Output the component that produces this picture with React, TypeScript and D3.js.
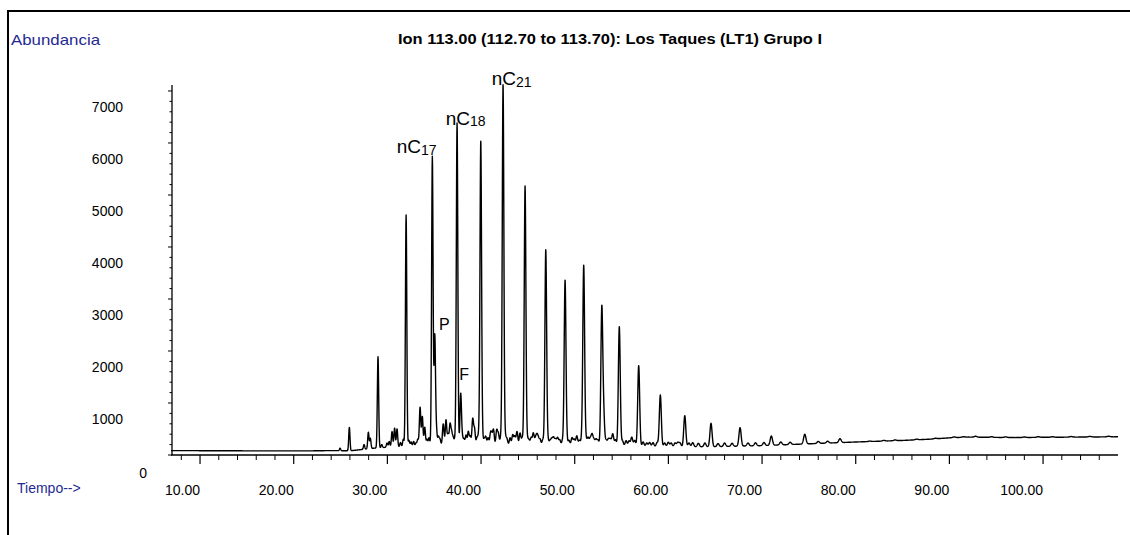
import React from "react";
import * as d3 from "d3";

const W = 1130;
const H = 535;

// Retention times (min) of resolved peaks and their apex abundance
const peakTimes = [24.95, 25.94, 27.51, 27.97, 28.18, 29.0, 29.96, 30.5, 30.77, 31.03, 32.0, 32.53, 33.06, 33.49, 33.73, 33.99, 34.23, 34.8, 35.06, 35.23, 35.62, 35.94, 36.26, 36.48, 36.69, 37.01, 37.44, 37.83, 38.18, 38.64, 39.11, 39.3, 39.57, 39.97, 40.32, 40.75, 41.01, 41.33, 41.67, 42.35, 42.77, 43.38, 43.84, 44.16, 44.7, 45.12, 45.58, 45.95, 46.3, 46.91, 47.37, 47.74, 48.17, 48.97, 49.39, 49.71, 50.22, 50.96, 51.42, 51.85, 52.28, 52.89, 53.08, 53.59, 54.06, 54.76, 55.48, 56.09, 56.83, 57.69, 58.36, 59.14, 59.99, 60.71, 61.24, 61.75, 62.6, 64.55, 67.65, 70.99, 74.56, 78.32];
const peakApex = [130, 532, 200, 436, 321, 1891, 230, 450, 515, 500, 4615, 250, 230, 917, 737, 532, 300, 5737, 2288, 480, 300, 440, 673, 400, 577, 330, 6385, 1173, 300, 449, 686, 500, 330, 5960, 300, 330, 400, 480, 470, 7115, 300, 385, 449, 420, 5173, 280, 417, 352, 300, 3942, 270, 330, 330, 3346, 280, 330, 365, 3635, 330, 385, 300, 2776, 800, 300, 404, 2468, 275, 340, 1718, 230, 237, 1154, 244, 230, 230, 756, 237, 609, 526, 365, 398, 314];

// Small unresolved humps riding on the baseline
const minorPeakTimes = [29.4, 30.2, 31.4, 31.7, 32.3, 32.8, 33.25, 34.45, 35.45, 36.0, 36.85, 37.2, 38.0, 38.4, 38.85, 39.75, 40.1, 40.5, 41.15, 41.85, 42.1, 42.6, 43.1, 43.6, 44.4, 44.95, 45.35, 45.8, 46.1, 46.6, 47.15, 47.55, 47.95, 48.4, 48.7, 49.15, 49.95, 50.5, 50.75, 51.2, 51.65, 52.05, 52.5, 53.35, 53.8, 54.35, 55.1, 55.8, 56.4, 57.3, 58.0, 58.8, 59.6, 60.3, 61.0, 62.2, 63.2, 63.9, 65.3, 66.0, 66.8, 68.5, 69.3, 70.2, 72.0, 73.0, 76.0, 77.0, 81.5, 83.0, 84.2, 86.5, 88.5, 90.5, 91.5, 92.8, 94.5, 96.0, 98.0, 99.5, 101.0, 103.0, 105.0, 107.0];
const minorPeakApex = [200, 260, 240, 300, 280, 260, 300, 330, 350, 380, 420, 300, 330, 380, 360, 380, 420, 350, 360, 400, 330, 340, 330, 360, 330, 300, 330, 300, 320, 300, 280, 300, 300, 290, 280, 270, 300, 280, 300, 290, 310, 290, 280, 280, 300, 290, 270, 270, 280, 250, 240, 240, 230, 230, 240, 230, 225, 230, 220, 230, 225, 230, 235, 240, 250, 245, 260, 265, 268, 282, 290, 305, 322, 348, 352, 360, 352, 348, 346, 352, 352, 355, 358, 360];

// Baseline (min, abundance)
const baselineTimes = [6.9, 15, 22, 24, 26, 27, 28.5, 30, 32, 34, 36, 40, 44, 48, 52, 56, 60, 65, 70, 75, 80, 85, 88, 90, 92, 94, 97, 100, 104, 108];
const baselineValues = [85, 80, 80, 85, 80, 100, 130, 150, 160, 180, 190, 190, 185, 180, 175, 165, 155, 160, 180, 215, 250, 280, 305, 330, 345, 340, 335, 340, 345, 350];

const xMajorTicks = [10, 20, 30, 40, 50, 60, 70, 80, 90, 100];
const xTickLabels = ["10.00", "20.00", "30.00", "40.00", "50.00", "60.00", "70.00", "80.00", "90.00", "100.00"];
const yMajorTicks = [0, 1000, 2000, 3000, 4000, 5000, 6000, 7000];
const yTickLabels = ["0", "1000", "2000", "3000", "4000", "5000", "6000", "7000"];

const annText = ["nC", "nC", "nC", "P", "F"];
const annSub = ["17", "18", "21", "", ""];
const annTimes = [31.0, 36.23, 41.14, 35.52, 37.68];
const annValues = [5802, 6346, 7115, 2404, 1442];

const TITLE = "Ion 113.00 (112.70 to 113.70): Los Taques (LT1) Grupo I";
const BLUE = "#1f2a93";
const FONT = "'Liberation Sans', Arial, Helvetica, sans-serif";

export default function App() {
  const x = d3.scaleLinear().domain([6.9, 108]).range([171, 1118]);
  const y = d3.scaleLinear().domain([0, 7115]).range([455, 85]);
  const base = d3.scaleLinear().domain(baselineTimes).range(baselineValues).clamp(true);

  const allTimes = peakTimes.concat(minorPeakTimes);
  const allApex = peakApex.concat(minorPeakApex);
  const sigma = (t: number) => 0.035 + 0.0012 * t;
  const grid = d3.range(6.9, 108.0001, 0.02).concat(allTimes).sort((a, b) => a - b);
  const pts: [number, number][] = grid.map((t) => {
    let v = base(t);
    for (let i = 0; i < allTimes.length; i++) {
      const p = allTimes[i];
      const s = sigma(p);
      const d = t - p;
      if (Math.abs(d) < 6 * s) {
        const h = allApex[i] - base(p);
        v += h * Math.exp((-d * d) / (2 * s * s));
      }
    }
    return [t, v];
  });
  const line = d3.line<[number, number]>().x((d) => x(d[0])).y((d) => y(d[1]));

  const xMinor = d3.range(8, 107, 2).filter((t) => t % 10 !== 0);
  const yMinor = d3.range(200, 7001, 200).filter((v) => v % 1000 !== 0);
  const axisX = 172;
  const axisY = y(0);

  return (
    <svg width={W} height={H} style={{ position: "absolute", left: 0, top: 0, background: "#fff" }} fontFamily={FONT}>
      <rect x={0} y={0} width={W} height={H} fill="#fff" />
      {/* frame */}
      <line x1={8} y1={11} x2={W} y2={11} stroke="#000" strokeWidth={2} />
      <line x1={8} y1={10} x2={8} y2={H} stroke="#000" strokeWidth={2} />

      <text x={11} y={45} fontSize={15} fill={BLUE} textLength={89} lengthAdjust="spacingAndGlyphs">Abundancia</text>
      <text x={398} y={44} fontSize={14} fontWeight="bold" fill="#000" textLength={424} lengthAdjust="spacingAndGlyphs">{TITLE}</text>
      <text x={17} y={493} fontSize={14} fill={BLUE}>Tiempo--&gt;</text>

      {/* y axis */}
      <line x1={axisX} y1={85} x2={axisX} y2={axisY} stroke="#000" strokeWidth={1.3} />
      {yMajorTicks.map((v) => (
        <line key={"ym" + v} x1={axisX - 4} x2={axisX} y1={y(v)} y2={y(v)} stroke="#000" strokeWidth={1} />
      ))}
      {yMinor.map((v) => (
        <line key={"yn" + v} x1={axisX - 2.5} x2={axisX} y1={y(v)} y2={y(v)} stroke="#000" strokeWidth={1} />
      ))}
      {yMajorTicks.map((v, i) => (
        <text key={"yl" + v} x={v === 0 ? 147 : 123} y={y(v) + (v === 0 ? 23 : 21.5)} fontSize={14} textAnchor="end" fill="#000">
          {yTickLabels[i]}
        </text>
      ))}

      {/* x axis */}
      <line x1={171} y1={axisY} x2={1118} y2={axisY} stroke="#000" strokeWidth={1.3} />
      {xMajorTicks.map((t) => (
        <line key={"xm" + t} x1={x(t)} x2={x(t)} y1={axisY} y2={axisY + 9} stroke="#000" strokeWidth={1.2} />
      ))}
      {xMinor.map((t) => (
        <line key={"xn" + t} x1={x(t)} x2={x(t)} y1={axisY} y2={axisY + 5} stroke="#000" strokeWidth={1} />
      ))}
      {xMajorTicks.map((t, i) => (
        <text key={"xl" + t} x={x(t)} y={axisY + 40} fontSize={14} textAnchor="end" fill="#000">
          {xTickLabels[i]}
        </text>
      ))}

      {/* trace */}
      <path d={line(pts) || ""} fill="none" stroke="#000" strokeWidth={1.4} strokeLinejoin="round" />

      {/* annotations */}
      {annText.map((s, i) => (
        <text key={"an" + i} x={x(annTimes[i])} y={y(annValues[i])} fontSize={annSub[i] ? 19 : 16} fill="#000">
          {s}
          {annSub[i] ? (
            <tspan fontSize={14} dy={1.5}>{annSub[i]}</tspan>
          ) : null}
        </text>
      ))}
    </svg>
  );
}
